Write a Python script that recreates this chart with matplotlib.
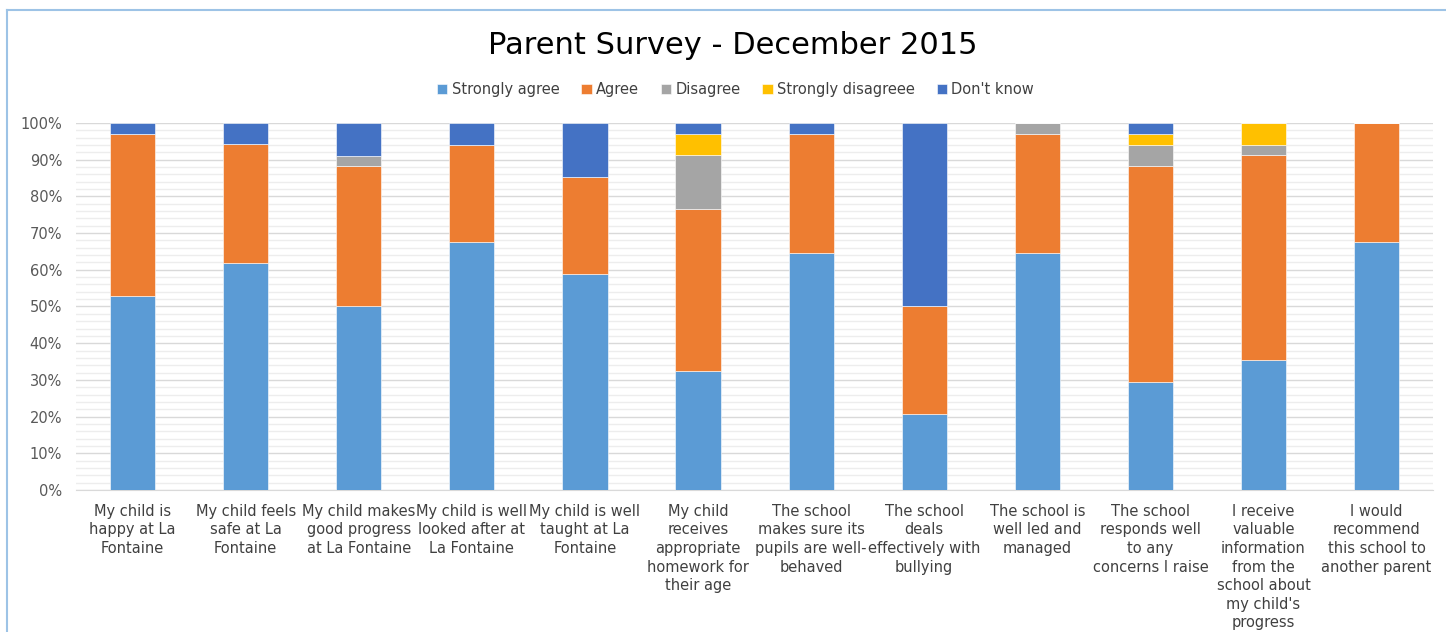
import numpy as np
import matplotlib
matplotlib.use("Agg")
import matplotlib.pyplot as plt
from matplotlib.ticker import MultipleLocator, PercentFormatter

plt.rcParams['font.family'] = ['Liberation Sans Narrow', 'DejaVu Sans']

questions = [
    "My child is\nhappy at La\nFontaine",
    "My child feels\nsafe at La\nFontaine",
    "My child makes\ngood progress\nat La Fontaine",
    "My child is well\nlooked after at\nLa Fontaine",
    "My child is well\ntaught at La\nFontaine",
    "My child\nreceives\nappropriate\nhomework for\ntheir age",
    "The school\nmakes sure its\npupils are well-\nbehaved",
    "The school\ndeals\neffectively with\nbullying",
    "The school is\nwell led and\nmanaged",
    "The school\nresponds well\nto any\nconcerns I raise",
    "I receive\nvaluable\ninformation\nfrom the\nschool about\nmy child's\nprogress",
    "I would\nrecommend\nthis school to\nanother parent",
]

# percentages
strongly_agree = [52.9, 61.8, 50.0, 67.6, 58.8, 32.4, 64.7, 20.6, 64.7, 29.4, 35.3, 67.6]
agree = [44.1, 32.4, 38.2, 26.5, 26.5, 44.1, 32.4, 29.4, 32.4, 58.8, 55.9, 32.4]
disagree = [0, 0, 2.9, 0, 0, 14.7, 0, 0, 2.9, 5.9, 2.9, 0]
strongly_disagree = [0, 0, 0, 0, 0, 5.9, 0, 0, 0, 2.9, 5.9, 0]
dont_know = [2.9, 5.9, 8.8, 5.9, 14.7, 2.9, 2.9, 50.0, 0, 2.9, 0, 0]

series = [
    ("Strongly agree", strongly_agree, "#5B9BD5"),
    ("Agree", agree, "#ED7D31"),
    ("Disagree", disagree, "#A5A5A5"),
    ("Strongly disagreee", strongly_disagree, "#FFC000"),
    ("Don't know", dont_know, "#4472C4"),
]

fig = plt.figure(figsize=(14.46, 6.32), dpi=100)
ax = fig.add_axes([0.0526, 0.2247, 0.9385, 0.5807])

x = np.arange(len(questions))
bottom = np.zeros(len(questions))
for name, vals, col in series:
    vals = np.array(vals, dtype=float)
    ax.bar(x, vals, 0.4, bottom=bottom, color=col, label=name,
           edgecolor="white", linewidth=0.4, zorder=3)
    bottom += vals

ax.set_xlim(-0.5, len(questions) - 0.5)
ax.set_ylim(0, 100)
ax.yaxis.set_major_locator(MultipleLocator(10))
ax.yaxis.set_minor_locator(MultipleLocator(2))
ax.yaxis.set_major_formatter(PercentFormatter(decimals=0))
ax.grid(axis="y", which="major", color="#d9d9d9", linewidth=1, zorder=0)
ax.grid(axis="y", which="minor", color="#ededed", linewidth=1, zorder=0)
for s in ["top", "right", "left"]:
    ax.spines[s].set_visible(False)
ax.spines["bottom"].set_color("#d9d9d9")
ax.tick_params(axis="both", which="both", length=0)
ax.tick_params(axis="y", labelsize=10.5, labelcolor="#595959", pad=10)
ax.set_xticks(x)
ax.set_xticklabels(questions, fontsize=10.5, color="#404040", linespacing=1.3)
ax.tick_params(axis="x", pad=10)

fig.text(0.507, 0.928, "Parent Survey - December 2015", ha="center", va="center",
         fontsize=22, color="#000000")
ax.legend(loc="center", bbox_to_anchor=(0.486, 1.09), ncol=5, frameon=False,
          fontsize=10.5, handlelength=0.7, handleheight=0.7, handletextpad=0.3,
          columnspacing=1.5, labelcolor="#404040")

# chart border (partially cropped in the screenshot)
fig.add_artist(plt.Line2D([0.005, 0.005], [0, 0.984], color="#9dc3e6", linewidth=1.5))
fig.add_artist(plt.Line2D([0.005, 1], [0.984, 0.984], color="#9dc3e6", linewidth=1.5))

fig.savefig("out.png", dpi=100)
